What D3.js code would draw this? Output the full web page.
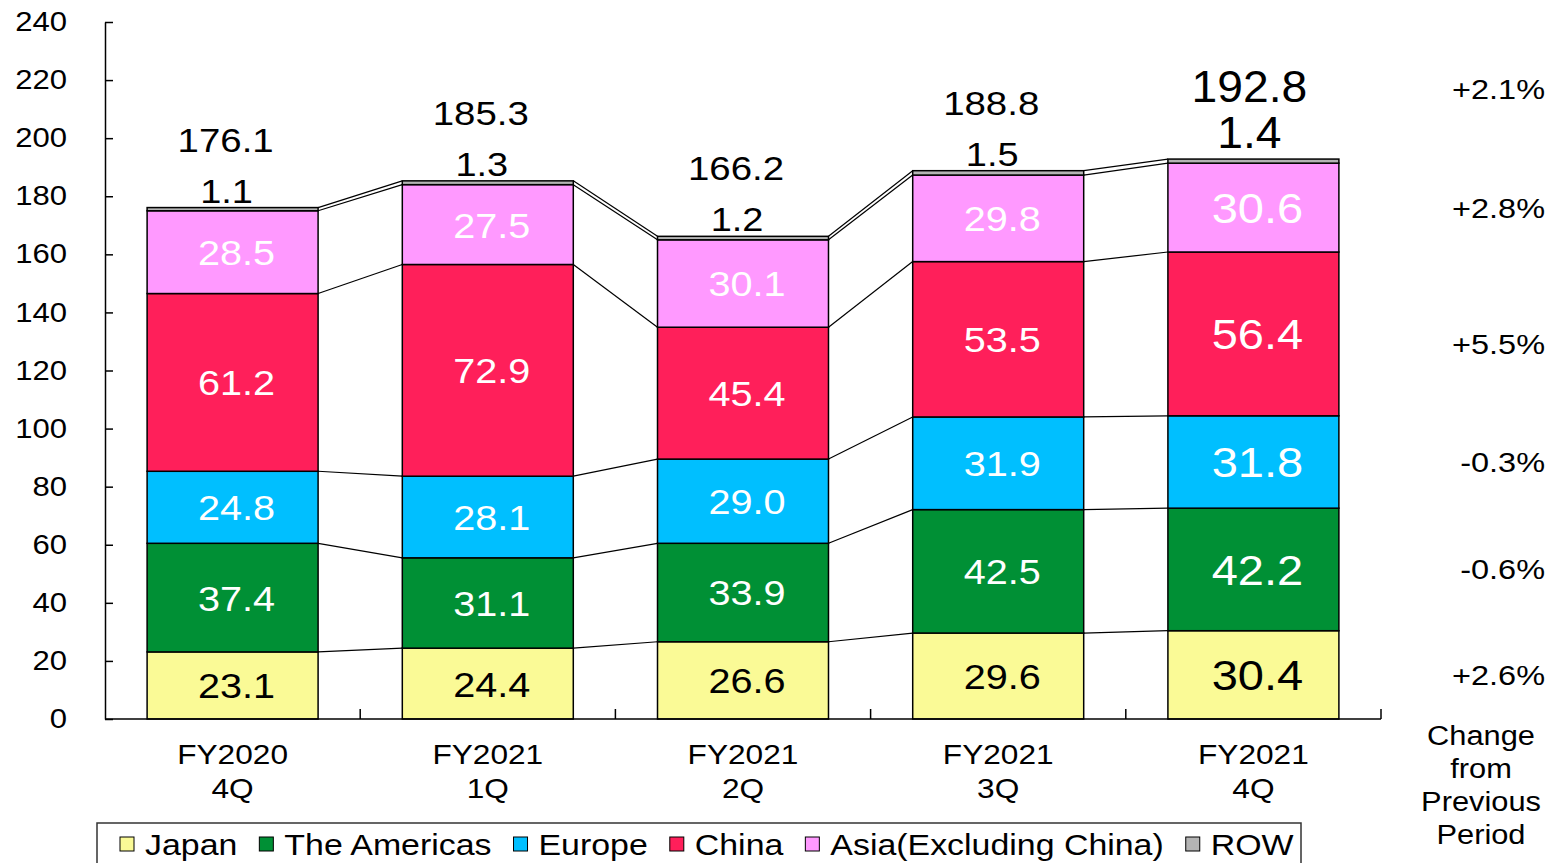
<!DOCTYPE html>
<html>
<head>
<meta charset="utf-8">
<script src="https://cdn.jsdelivr.net/npm/d3@7"></script>
<style>
  body { margin: 0; background: #fff; }
  text { font-family: "Liberation Sans", Arial, sans-serif; }
</style>
</head>
<body>
<div id="chart"></div>
<script>
// data
var categories = ["FY2020\n4Q", "FY2021\n1Q", "FY2021\n2Q", "FY2021\n3Q", "FY2021\n4Q"];
var regions = ["Japan", "The Americas", "Europe", "China", "Asia(Excluding China)", "ROW"];
var japan    = [23.1, 24.4, 26.6, 29.6, 30.4];
var americas = [37.4, 31.1, 33.9, 42.5, 42.2];
var europe   = [24.8, 28.1, 29.0, 31.9, 31.8];
var china    = [61.2, 72.9, 45.4, 53.5, 56.4];
var asia     = [28.5, 27.5, 30.1, 29.8, 30.6];
var row      = [1.1, 1.3, 1.2, 1.5, 1.4];
var totals   = [176.1, 185.3, 166.2, 188.8, 192.8];
var changes  = ["+2.6%", "-0.6%", "-0.3%", "+5.5%", "+2.8%", "+2.1%"]; // same order as regions
var yTicks = [0, 20, 40, 60, 80, 100, 120, 140, 160, 180, 200, 220, 240];
var colors = ["#FAFA96", "#009035", "#00BFFF", "#FF1F5A", "#FF99FF", "#B4B4B4"];

var series = [japan, americas, europe, china, asia, row];

var W = 1548, H = 863;
var svg = d3.select("#chart").append("svg")
    .attr("width", W).attr("height", H);

var x = d3.scaleBand().domain(categories).range([105, 1381]).padding(0);
var y = d3.scaleLinear().domain([0, 240]).range([719, 22]);
var barW = x.bandwidth() * 0.67;

// stretched text helper (the original renders text a bit wide)
function stext(g, px, py, str, size, k, anchor, fill) {
  return g.append("text")
    .attr("transform", "translate(" + px + "," + py + ") scale(" + k + ",1)")
    .attr("text-anchor", anchor || "middle")
    .attr("fill", fill || "#000")
    .style("font-size", size + "px")
    .text(str);
}

// stack
var stackData = categories.map(function(c, i) {
  var o = {cat: c};
  regions.forEach(function(r, j) { o[r] = series[j][i]; });
  return o;
});
var stacked = d3.stack().keys(regions)(stackData);

// connector lines between bars
var conn = svg.append("g");
stacked.forEach(function(layer) {
  for (var i = 0; i < categories.length - 1; i++) {
    var x1 = x(categories[i]) + (x.bandwidth() + barW) / 2;
    var x2 = x(categories[i + 1]) + (x.bandwidth() - barW) / 2;
    conn.append("line")
      .attr("x1", x1).attr("y1", y(layer[i][1]))
      .attr("x2", x2).attr("y2", y(layer[i + 1][1]))
      .attr("stroke", "#000").attr("stroke-width", 1.2);
  }
});

// bars
var layers = svg.append("g").selectAll("g")
  .data(stacked)
  .enter().append("g")
    .attr("fill", function(d, i) { return colors[i]; });

layers.selectAll("rect")
  .data(function(d) { return d; })
  .enter().append("rect")
    .attr("x", function(d) { return x(d.data.cat) + (x.bandwidth() - barW) / 2; })
    .attr("y", function(d) { return y(d[1]); })
    .attr("width", barW)
    .attr("height", function(d) { return y(d[0]) - y(d[1]); })
    .attr("stroke", "#000")
    .attr("stroke-width", 1.5);

// values inside bars (not ROW)
var lab = svg.append("g");
stacked.forEach(function(layer, j) {
  if (j === 5) return;
  layer.forEach(function(d, i) {
    var last = i === categories.length - 1;
    var cx = x(d.data.cat) + x.bandwidth() / 2 + 4;
    var cy = y((d[0] + d[1]) / 2);
    var size = last ? 42 : 36;
    stext(lab, cx, cy + size * 0.36, series[j][i].toFixed(1), size, last ? 1.12 : 1.1,
          "middle", j === 0 ? "#000" : "#fff");
  });
});

// ROW values and totals above bars
categories.forEach(function(c, i) {
  var last = i === categories.length - 1;
  var cx = x(c) + x.bandwidth() / 2;
  var top = y(totals[i]);
  if (last) {
    stext(lab, cx - 4, top - 11, row[i].toFixed(1), 44, 1.05);
    stext(lab, cx - 4, top - 57, totals[i].toFixed(1), 44, 1.05);
  } else {
    stext(lab, cx - 6, top - 5, row[i].toFixed(1), 33, 1.15);
    stext(lab, cx - 7, top - 56, totals[i].toFixed(1), 34, 1.13);
  }
});

// y axis (ticks pointing inward)
var yAxis = svg.append("g")
  .attr("transform", "translate(105,0)")
  .call(d3.axisLeft(y).tickValues(yTicks).tickSize(-8).tickSizeOuter(0));
yAxis.select(".domain").attr("stroke", "#000").attr("stroke-width", 1.5);
yAxis.selectAll(".tick line").attr("stroke", "#000").attr("stroke-width", 1.5);
yAxis.selectAll(".tick text")
  .attr("x", -38 / 1.15)
  .attr("transform", "scale(1.15,1)")
  .attr("fill", "#000")
  .style("font-size", "27px")
  .style("font-family", "Liberation Sans, Arial, sans-serif");

// x axis with ticks at band boundaries pointing up
var xg = svg.append("g");
xg.append("line")
  .attr("x1", x.range()[0]).attr("x2", x.range()[1])
  .attr("y1", y(0)).attr("y2", y(0))
  .attr("stroke", "#000").attr("stroke-width", 1.5);
categories.forEach(function(c) {
  var bx = x(c) + x.bandwidth();
  xg.append("line")
    .attr("x1", bx).attr("x2", bx)
    .attr("y1", y(0)).attr("y2", y(0) - 10)
    .attr("stroke", "#000").attr("stroke-width", 1.5);
  var lines = c.split("\n");
  lines.forEach(function(t, k) {
    stext(xg, x(c) + x.bandwidth() / 2, 764 + k * 34, t, 28, 1.13);
  });
});

// change from previous period, right column
var last = stacked.map(function(layer) { return layer[categories.length - 1]; });
changes.forEach(function(t, j) {
  var cy = j === 5 ? y(totals[4] + 24) : y((last[j][0] + last[j][1]) / 2);
  if (j === 3) cy += 10;
  stext(svg, 1545, cy + 10, t, 28, 1.16, "end");
});
["Change", "from", "Previous", "Period"].forEach(function(t, k) {
  stext(svg, 1481, 745 + k * 33, t, 28, 1.1);
});

// legend
var lg = svg.append("g");
lg.append("rect")
  .attr("x", 97).attr("y", 823).attr("width", 1204).attr("height", 60)
  .attr("fill", "none").attr("stroke", "#333").attr("stroke-width", 1.5);
var lx = 120;
regions.forEach(function(r, j) {
  lg.append("rect")
    .attr("x", lx).attr("y", 837).attr("width", 14).attr("height", 14)
    .attr("fill", colors[j]).attr("stroke", "#000").attr("stroke-width", 1);
  var t = stext(lg, lx + 25, 855, r, 30, 1.13, "start");
  lx += 25 + t.node().getComputedTextLength() * 1.13 + 22;
});
</script>
</body>
</html>
